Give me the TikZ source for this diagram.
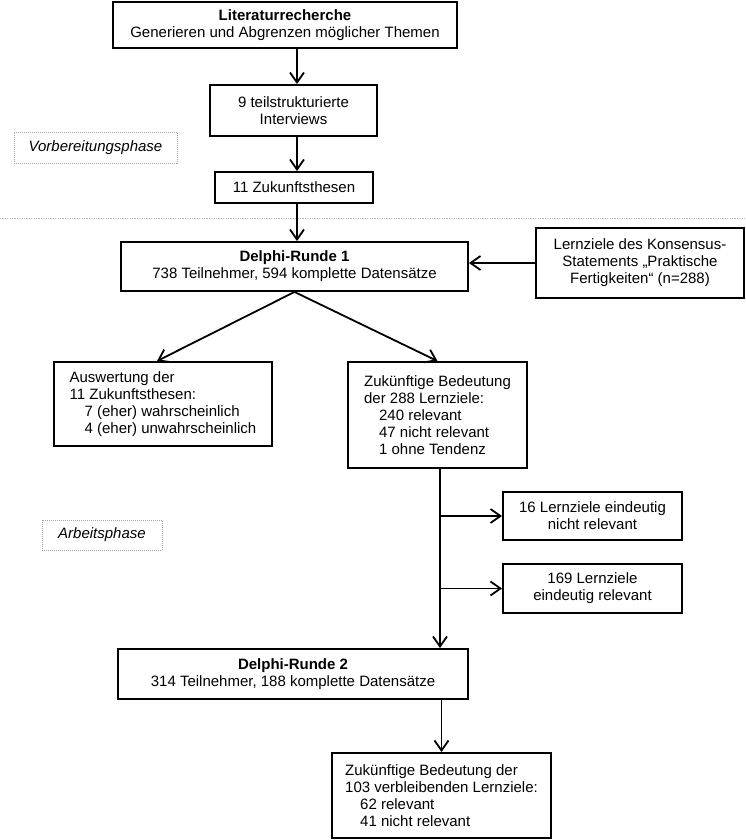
\documentclass[tikz,border=0pt]{standalone}
\usepackage{fontspec}
\setmainfont{Liberation Sans}
\usetikzlibrary{arrows.meta}
\tikzset{
  box/.style={draw=black, line width=1.9pt, inner sep=0pt, align=center,
    font=\fontsize{15pt}{17pt}\selectfont},
  lbox/.style={box, align=left},
  phase/.style={draw=gray!70, line width=0.8pt, dash pattern=on 1pt off 1pt,
    inner sep=0pt, font=\fontsize{15pt}{17pt}\selectfont\itshape},
  sep/.style={draw=gray!55, line width=1pt, dash pattern=on 1.2pt off 1.2pt},
  arr/.style={line width=1.8pt, -{Straight Barb[length=10pt,width=14pt]}},
}
\begin{document}
\begin{tikzpicture}[x=1pt,y=-1pt]
\useasboundingbox (0,0) rectangle (745,840);
% separator
\coordinate (sl) at (0,218);
\coordinate (sr) at (745,218);
\draw[sep] (sl) -- (sr);
% nodes
\node[box, minimum width=344pt, minimum height=46pt] (lit) at (285,25)
  {\textbf{Literaturrecherche}\\Generieren und Abgrenzen möglicher Themen};
\node[box, minimum width=167pt, minimum height=51pt] (int) at (293.5,110.5)
  {9 teilstrukturierte\\Interviews};
\node[box, minimum width=158pt, minimum height=31pt] (zuk) at (294,187.5)
  {11 Zukunftsthesen};
\node[phase, minimum width=163pt, minimum height=31pt] (vorb) at (95.5,147.5)
  {Vorbereitungsphase};
\node[box, minimum width=347pt, minimum height=49pt] (d1) at (294.5,266.5)
  {\textbf{Delphi-Runde 1}\\738 Teilnehmer, 594 komplette Datensätze};
\node[box, minimum width=208pt, minimum height=70pt] (kons) at (640,263)
  {Lernziele des Konsensus-\\Statements „Praktische\\Fertigkeiten“ (n=288)};
\node[lbox, minimum width=218pt, minimum height=84pt] (ausw) at (163,404)
  {Auswertung der\\11 Zukunftsthesen:\\\hspace*{15pt}7 (eher) wahrscheinlich\\\hspace*{15pt}4 (eher) unwahrscheinlich};
\node[lbox, minimum width=179pt, minimum height=106pt] (bed) at (437.5,415)
  {Zukünftige Bedeutung\\der 288 Lernziele:\\\hspace*{15pt}240 relevant\\\hspace*{15pt}47 nicht relevant\\\hspace*{15pt}1 ohne Tendenz};
\node[phase, minimum width=120pt, minimum height=30pt] (arb) at (102,535)
  {Arbeitsphase};
\node[box, minimum width=179pt, minimum height=48pt] (nr) at (592.5,516)
  {16 Lernziele eindeutig\\nicht relevant};
\node[box, minimum width=179pt, minimum height=49pt] (rel) at (592.5,588.5)
  {169 Lernziele\\eindeutig relevant};
\node[box, minimum width=350pt, minimum height=50pt] (d2) at (293,674)
  {\textbf{Delphi-Runde 2}\\314 Teilnehmer, 188 komplette Datensätze};
\node[lbox, minimum width=219pt, minimum height=85pt] (fin) at (441.5,795.5)
  {Zukünftige Bedeutung der\\103 verbleibenden Lernziele:\\\hspace*{15pt}62 relevant\\\hspace*{15pt}41 nicht relevant};
% connectors
\coordinate (ax) at (297,0);
\coordinate (vx) at (440,0);
\draw[arr] (lit.south -| ax) -- (int.north -| ax);
\draw[arr] (int.south -| ax) -- (zuk.north -| ax);
\draw[arr] (zuk.south -| ax) -- (d1.north -| ax);
\draw[arr] (kons.west) -- (kons.west -| d1.east);
\draw[arr] (d1.south) -- ([xshift=-6pt]ausw.north);
\draw[arr] (d1.south) -- (bed.north);
\draw[arr] (bed.south -| vx) -- (d2.north -| vx);
\draw[arr] (nr.west -| vx) -- (nr.west);
\draw[arr] (rel.west -| vx) -- (rel.west);
\draw[arr] (d2.south -| fin.north) -- (fin.north);
\end{tikzpicture}
\end{document}
